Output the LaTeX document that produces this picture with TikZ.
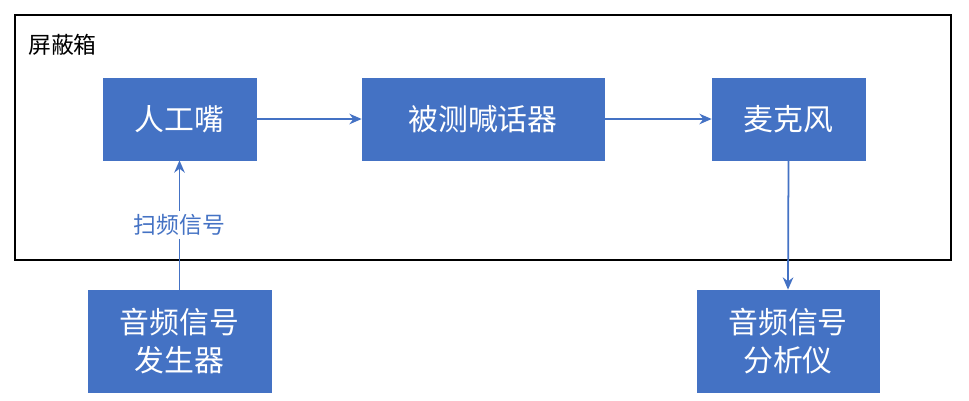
\documentclass[tikz,border=0pt]{standalone}
\usepackage{fontspec}
\newfontfamily\cjk{Noto Sans CJK SC}
\usetikzlibrary{positioning,arrows.meta}
\definecolor{boxblue}{HTML}{4472C4}
\begin{document}
\begin{tikzpicture}[x=0.02cm,y=-0.02cm,
    blk/.style={draw=boxblue,fill=boxblue,text=white,align=center,inner sep=0pt,font=\cjk\fontsize{17}{22}\selectfont},
    link/.style={draw=boxblue,line width=1pt,-{Stealth[length=7pt,width=6pt]}}]
    \useasboundingbox (0,0) rectangle (969,400);
    % shield box
    \draw[line width=1pt] (15,15) rectangle (951,260);
    \node[anchor=west,font=\cjk\fontsize{13}{16}\selectfont] (title) at (22,45) {屏蔽箱};
    % blocks
    \node[blk,minimum width=3.06cm,minimum height=1.64cm] (mouth) at (179.5,119) {人工嘴};
    \node[blk,minimum width=4.84cm,minimum height=1.64cm] (dut) at (483,119) {被测喊话器};
    \node[blk,minimum width=3.06cm,minimum height=1.64cm] (mic) at (788.5,119) {麦克风};
    \node[blk,minimum width=3.66cm,minimum height=2.04cm] (gen) at (179.5,341) {音频信号\\发生器};
    \node[blk,minimum width=3.64cm,minimum height=2.04cm] (ana) at (788,341) {音频信号\\分析仪};
    % connectors
    \draw[link] (mouth) -- (dut);
    \draw[link] (dut) -- (mic);
    \draw[link] (mic.south) -- (ana.north);
    \draw[link] (gen.north) -- node[fill=white,text=boxblue,font=\cjk\fontsize{13}{16}\selectfont,inner sep=2pt] (sweep) {扫频信号} (mouth.south);
\end{tikzpicture}
\end{document}
